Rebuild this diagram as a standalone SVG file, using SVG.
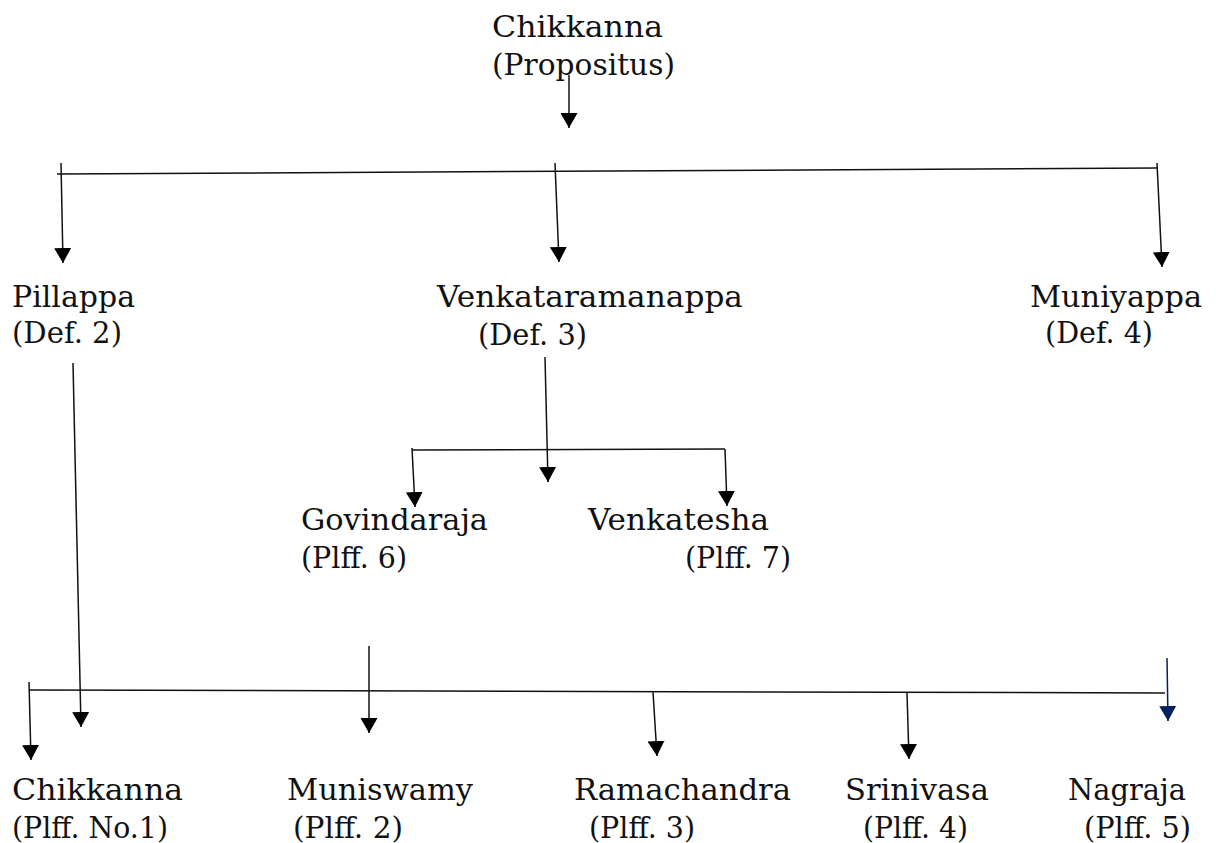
<svg xmlns="http://www.w3.org/2000/svg" width="1216" height="843" viewBox="0 0 1216 843">
<style>
text{font-family:"DejaVu Serif","Liberation Serif",serif;font-size:30.5px;fill:#111}
.c line{stroke:#111;stroke-width:1.5;fill:none}
.c line.a{marker-end:url(#ah)}
.c line.n{stroke:#002060;marker-end:url(#ahn)}
</style>
<defs>
<marker id="ah" markerUnits="userSpaceOnUse" markerWidth="16" markerHeight="17" refX="15" refY="8.5" orient="auto" viewBox="0 0 16 17"><path d="M0,0 L15,8.5 L0,17 z" fill="#000"/></marker>
<marker id="ahn" markerUnits="userSpaceOnUse" markerWidth="16" markerHeight="17" refX="15" refY="8.5" orient="auto" viewBox="0 0 16 17"><path d="M0,0 L15,8.5 L0,17 z" fill="#002060"/></marker>
</defs>
<rect width="1216" height="843" fill="#fff"/>
<g class="c" id="connectors">
<line class="a" x1="569" y1="75" x2="569" y2="128"/>
<line x1="57" y1="174" x2="1157" y2="168"/>
<line class="a" x1="61" y1="163" x2="63" y2="263"/>
<line class="a" x1="555" y1="163" x2="559" y2="262"/>
<line class="a" x1="1157" y1="163" x2="1162" y2="267"/>
<line class="a" x1="545" y1="357" x2="548" y2="482"/>
<line x1="412" y1="450" x2="725" y2="449"/>
<line class="a" x1="412" y1="448" x2="415" y2="507"/>
<line class="a" x1="725" y1="449" x2="727" y2="506"/>
<line class="a" x1="73" y1="363" x2="81" y2="727"/>
<line x1="29" y1="690" x2="1165" y2="693"/>
<line class="a" x1="29" y1="682" x2="31" y2="760"/>
<line class="a" x1="369" y1="646" x2="369" y2="733"/>
<line class="a" x1="653" y1="692" x2="657" y2="756"/>
<line class="a" x1="907" y1="693" x2="909" y2="759"/>
<line class="n" x1="1167" y1="658" x2="1168" y2="721"/>
</g>
<g id="chikkanna-propositus"><text x="492" y="37" textLength="171" lengthAdjust="spacingAndGlyphs">Chikkanna</text><text x="492" y="75" textLength="183" lengthAdjust="spacingAndGlyphs">(Propositus)</text></g>
<g id="pillappa"><text x="12" y="307" textLength="123" lengthAdjust="spacingAndGlyphs">Pillappa</text><text x="12" y="343" textLength="110" lengthAdjust="spacingAndGlyphs">(Def. 2)</text></g>
<g id="venkataramanappa"><text x="437" y="307" textLength="306" lengthAdjust="spacingAndGlyphs">Venkataramanappa</text><text x="478" y="345" textLength="109" lengthAdjust="spacingAndGlyphs">(Def. 3)</text></g>
<g id="muniyappa"><text x="1030" y="307" textLength="172" lengthAdjust="spacingAndGlyphs">Muniyappa</text><text x="1045" y="343" textLength="108" lengthAdjust="spacingAndGlyphs">(Def. 4)</text></g>
<g id="govindaraja"><text x="301" y="530" textLength="187" lengthAdjust="spacingAndGlyphs">Govindaraja</text><text x="301" y="568" textLength="106" lengthAdjust="spacingAndGlyphs">(Plff. 6)</text></g>
<g id="venkatesha"><text x="588" y="530" textLength="181" lengthAdjust="spacingAndGlyphs">Venkatesha</text><text x="685" y="568" textLength="106" lengthAdjust="spacingAndGlyphs">(Plff. 7)</text></g>
<g id="chikkanna-plff1"><text x="12" y="800" textLength="171" lengthAdjust="spacingAndGlyphs">Chikkanna</text><text x="12" y="838" textLength="156" lengthAdjust="spacingAndGlyphs">(Plff. No.1)</text></g>
<g id="muniswamy"><text x="287" y="800" textLength="186" lengthAdjust="spacingAndGlyphs">Muniswamy</text><text x="293" y="838" textLength="110" lengthAdjust="spacingAndGlyphs">(Plff. 2)</text></g>
<g id="ramachandra"><text x="574" y="800" textLength="217" lengthAdjust="spacingAndGlyphs">Ramachandra</text><text x="589" y="838" textLength="106" lengthAdjust="spacingAndGlyphs">(Plff. 3)</text></g>
<g id="srinivasa"><text x="845" y="800" textLength="144" lengthAdjust="spacingAndGlyphs">Srinivasa</text><text x="863" y="838" textLength="105" lengthAdjust="spacingAndGlyphs">(Plff. 4)</text></g>
<g id="nagraja"><text x="1068" y="800" textLength="118" lengthAdjust="spacingAndGlyphs">Nagraja</text><text x="1084" y="838" textLength="107" lengthAdjust="spacingAndGlyphs">(Plff. 5)</text></g>
</svg>
